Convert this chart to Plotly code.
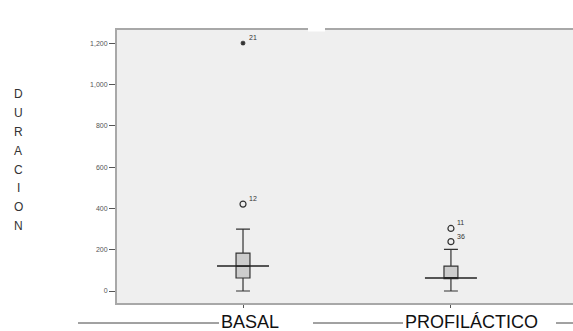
import plotly.graph_objects as go

# Box plot summaries of DURACION per group
groups = ["BASAL", "PROFILÁCTICO"]
positions = [0, 1]
q1 = [63, 60]
median = [121, 63]
q3 = [184, 121]
lower_fence = [0, 0]
upper_fence = [300, 202]

# Outliers: (group index, value, case label, kind)
out_group = [0, 0, 1, 1]
out_value = [1200, 421, 303, 239]
out_label = ["21", "12", "11", "36"]
out_kind = ["extreme", "mild", "mild", "mild"]

y_ticks = [0, 200, 400, 600, 800, 1000, 1200]
y_title = "DURACION"

W, H = 573, 331
ML, MR, MT, MB = 117, 0, 30, 28
pw, ph = W - ML - MR, H - MT - MB


def px_x(p):
    return (p - ML) / pw


def px_y(p):
    return (H - MB - p) / ph


fig = go.Figure()

box_w = 0.067
median_w = 0.25
for i, g in enumerate(groups):
    fig.add_trace(go.Box(
        x=[positions[i]], q1=[q1[i]], median=[median[i]], q3=[q3[i]],
        lowerfence=[lower_fence[i]], upperfence=[upper_fence[i]],
        width=box_w, whiskerwidth=1, boxpoints=False,
        fillcolor="#CCCCCC", line=dict(color="#333333", width=1.2),
        name=g, showlegend=False, hoverinfo="skip",
    ))
    # wide median bar across the box
    fig.add_trace(go.Scatter(
        x=[positions[i] - median_w / 2, positions[i] + median_w / 2],
        y=[median[i], median[i]], mode="lines",
        line=dict(color="#222222", width=1.5), showlegend=False, hoverinfo="skip",
    ))

for kind, sym, size, lw in [("mild", "circle-open", 6, 1.2), ("extreme", "asterisk-open", 4, 1.2)]:
    idx = [k for k, t in enumerate(out_kind) if t == kind]
    fig.add_trace(go.Scatter(
        x=[positions[out_group[k]] for k in idx],
        y=[out_value[k] for k in idx],
        mode="markers",
        marker=dict(symbol=sym, size=size, color="#333333", line=dict(color="#333333", width=lw)),
        showlegend=False, hoverinfo="skip",
    ))

for k in range(len(out_value)):
    fig.add_annotation(
        x=positions[out_group[k]], y=out_value[k], text=out_label[k],
        showarrow=False, xanchor="left", yanchor="bottom",
        xshift=4, yshift=0, font=dict(size=7, color="#333333", family="Liberation Sans"),
    )

# vertical axis title, one letter per row
y0, step = 94, 18.9
for i, ch in enumerate(y_title):
    fig.add_annotation(
        xref="paper", yref="paper", x=px_x(18), y=px_y(y0 + i * step),
        text=ch, showarrow=False, xanchor="center", yanchor="middle",
        font=dict(size=12, color="#333333", family="Liberation Sans"),
    )

# category labels with leader rules
lab_y = px_y(322)
fig.add_annotation(xref="paper", yref="paper", x=px_x(219), y=lab_y, text=groups[0],
                   showarrow=False, xanchor="left", yanchor="middle",
                   font=dict(size=18, color="#111111", family="Liberation Sans"))
fig.add_annotation(xref="paper", yref="paper", x=px_x(403), y=lab_y, text=groups[1],
                   showarrow=False, xanchor="left", yanchor="middle",
                   font=dict(size=18, color="#111111", family="Liberation Sans"))
for a, b in [(78, 219), (313, 403), (556, 573)]:
    fig.add_shape(type="line", xref="paper", yref="paper",
                  x0=px_x(a), x1=px_x(b), y0=px_y(323), y1=px_y(323),
                  line=dict(color="#444444", width=1))

# break in the top frame
fig.add_shape(type="rect", xref="paper", yref="paper",
              x0=px_x(308), x1=px_x(325), y0=px_y(31.5), y1=px_y(28),
              fillcolor="white", line=dict(width=0), layer="above")

fig.update_layout(
    width=W, height=H,
    margin=dict(l=ML, r=MR, t=MT, b=MB),
    paper_bgcolor="white", plot_bgcolor="#EFEFEF",
    font=dict(family="Liberation Sans"),
    xaxis=dict(range=[-0.606, 1.587], showgrid=False, zeroline=False,
               tickvals=positions, ticktext=["", ""], ticks="outside", ticklen=3,
               tickcolor="#555555", showline=True, linecolor="#A8A8A8", linewidth=2,
               mirror=True),
    yaxis=dict(range=[-58, 1264], showgrid=False, zeroline=False,
               tickvals=y_ticks, tickformat=",", ticks="outside", ticklen=6,
               tickcolor="#555555", tickfont=dict(size=7, color="#555555"),
               showline=True, linecolor="#A8A8A8", linewidth=2),
)

fig.write_html("out.html")
